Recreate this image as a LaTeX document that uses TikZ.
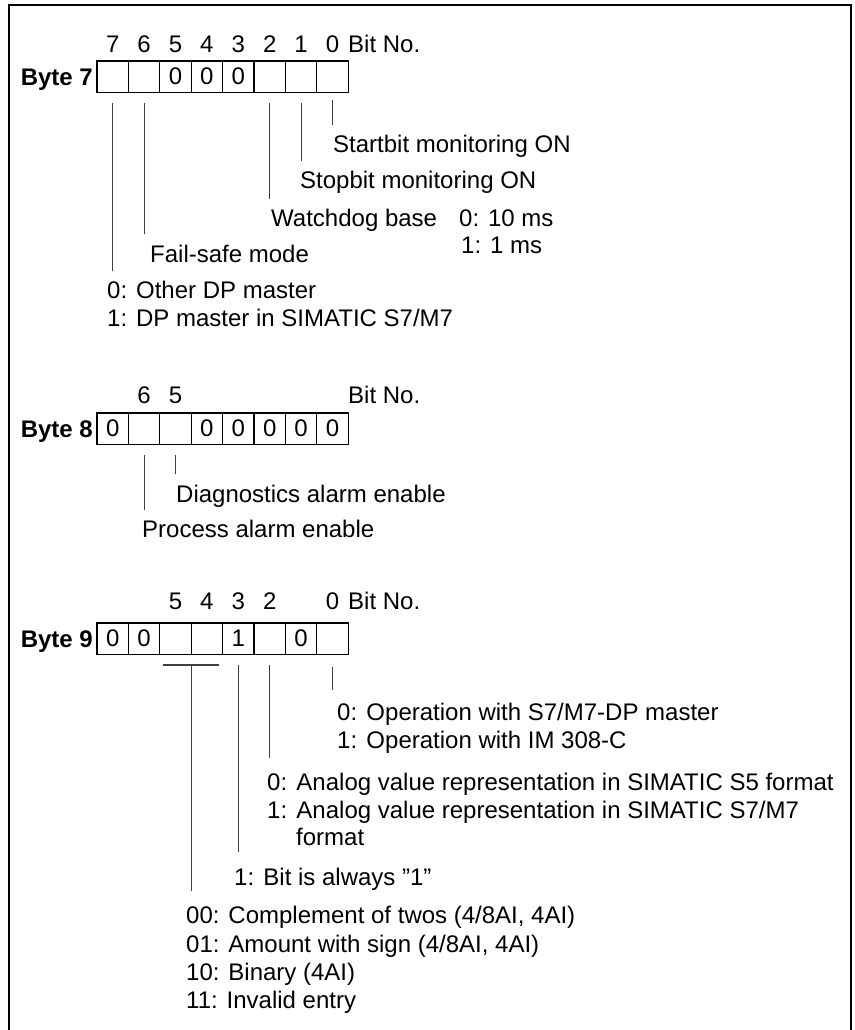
\documentclass[tikz,border=0pt]{standalone}
\usepackage{fontspec}
\setmainfont{Liberation Sans}
\usetikzlibrary{positioning, calc}
\newcommand{\valpfx}[1]{\makebox[1.22em][l]{#1}}

\begin{document}
\begin{tikzpicture}[x=1pt, y=-1pt, font=\fontsize{24}{28}\selectfont]
  \tikzstyle{cell} = [draw, line width=1.1pt, rectangle, minimum width=31.4pt, minimum height=31.4pt, inner sep=0pt]
  \tikzstyle{bitno} = [anchor=base, inner sep=0pt]
  \tikzstyle{lbl} = [anchor=base west, inner sep=0pt]
  \tikzstyle{bytelbl} = [anchor=base east, inner sep=0pt, font=\fontsize{24}{28}\selectfont\bfseries]
  \tikzstyle{conn} = [line width=1.1pt, black!75]

  \useasboundingbox (0,0) rectangle (854,1030);
  \draw[line width=1.5pt] (9,1031) -- (9,5) -- (851,5) -- (851,1031);

  % Byte 7
  \foreach \bit/\val in {7/{},6/{},5/0,4/0,3/0,2/{},1/{},0/{}}
    \node[cell] (b7-\bit) at ({112.7+(7-\bit)*31.4}, 76.7) {\val};
  \foreach \bit in {7,...,0}
    \node[bitno] (d7-\bit) at (b7-\bit |- 0,53) {\bit};
  \node[lbl] (bitno7) at (348,53) {Bit No.};
  \node[bytelbl] (byte7) at (93,85.3) {Byte 7};

  \node[lbl] (startbit) at (333,153) {Startbit monitoring ON};
  \node[lbl] (stopbit) at (300,188) {Stopbit monitoring ON};
  \node[lbl] (watchdog) at (271,226) {Watchdog base};
  \node[lbl] (wd0) at (459,226) {0: 10 ms};
  \node[lbl] (wd1) at (461,253) {1: 1 ms};
  \node[lbl] (failsafe) at (150,262) {Fail-safe mode};
  \node[lbl] (other) at (107,298) {0: Other DP master};
  \node[lbl] (simatic) at (107,326) {1: DP master in SIMATIC S7/M7};

  \draw[conn] ([yshift=-7pt]b7-0.south) -- ($(b7-0 |- startbit.north)+(0,10pt)$);
  \draw[conn] ([yshift=-10pt]b7-1.south) -- ($(b7-1 |- stopbit.north)+(0,9pt)$);
  \draw[conn] ([yshift=-10pt]b7-2.south) -- ($(b7-2 |- watchdog.north)+(0,9pt)$);
  \draw[conn] ([yshift=-10pt]b7-6.south) -- ($(b7-6 |- failsafe.north)+(0,10pt)$);
  \draw[conn] ([yshift=-10pt]b7-7.south) -- ($(b7-7 |- other.north)+(0,9pt)$);

  % Byte 8
  \foreach \bit/\val in {7/0,6/{},5/{},4/0,3/0,2/0,1/0,0/0}
    \node[cell] (b8-\bit) at ({112.7+(7-\bit)*31.4}, 428.7) {\val};
  \foreach \bit in {6,5}
    \node[bitno] (d8-\bit) at (b8-\bit |- 0,403) {\bit};
  \node[lbl] (bitno8) at (348,403) {Bit No.};
  \node[bytelbl] (byte8) at (93,437.3) {Byte 8};

  \node[lbl] (diag) at (176,502) {Diagnostics alarm enable};
  \node[lbl] (process) at (142,537) {Process alarm enable};

  \draw[conn] ([yshift=-10pt]b8-5.south) -- ($(b8-5 |- diag.north)+(0,10pt)$);
  \draw[conn] ([yshift=-10pt]b8-6.south) -- ($(b8-6 |- process.north)+(0,9pt)$);

  % Byte 9
  \foreach \bit/\val in {7/0,6/0,5/{},4/{},3/1,2/{},1/0,0/{}}
    \node[cell] (b9-\bit) at ({112.7+(7-\bit)*31.4}, 638.7) {\val};
  \foreach \bit in {5,4,3,2,0}
    \node[bitno] (d9-\bit) at (b9-\bit |- 0,609) {\bit};
  \node[lbl] (bitno9) at (348,609) {Bit No.};
  \node[bytelbl] (byte9) at (93,647.3) {Byte 9};

  \node[lbl] (op0) at (337,720) {\valpfx{0:}Operation with S7/M7-DP master};
  \node[lbl] (op1) at (337,748) {\valpfx{1:}Operation with IM 308-C};
  \node[lbl] (ana0) at (267,790) {\valpfx{0:}Analog value representation in SIMATIC S5 format};
  \node[lbl] (ana1) at (267,818) {\valpfx{1:}Analog value representation in SIMATIC S7/M7};
  \node[lbl] (fmt) at (296,845) {format};
  \node[lbl] (always) at (234,885) {\valpfx{1:}Bit is always "1”};
  \node[lbl] (cm00) at (186,923) {00: Complement of twos (4/8AI, 4AI)};
  \node[lbl] (cm01) at (186,952) {01: Amount with sign (4/8AI, 4AI)};
  \node[lbl] (cm10) at (186,980) {10: Binary (4AI)};
  \node[lbl] (cm11) at (186,1008) {11: Invalid entry};

  \draw[conn] ([yshift=-12pt]b9-0.south) -- ($(b9-0 |- op0.north)+(0,12pt)$);
  \draw[conn] ([yshift=-10pt]b9-2.south) -- ($(b9-2 |- ana0.north)+(0,14pt)$);
  \draw[conn] ([yshift=-10pt]b9-3.south) -- ($(b9-3 |- always.north)+(0,15pt)$);
  \draw[conn] ([xshift=4pt,yshift=-10pt]b9-5.south west) -- ([xshift=-4pt,yshift=-10pt]b9-4.south east);
  \draw[conn] ([yshift=-10pt]b9-5.south east) -- ($(b9-5.south east |- cm00.north)+(0,14pt)$);
\end{tikzpicture}
\end{document}
